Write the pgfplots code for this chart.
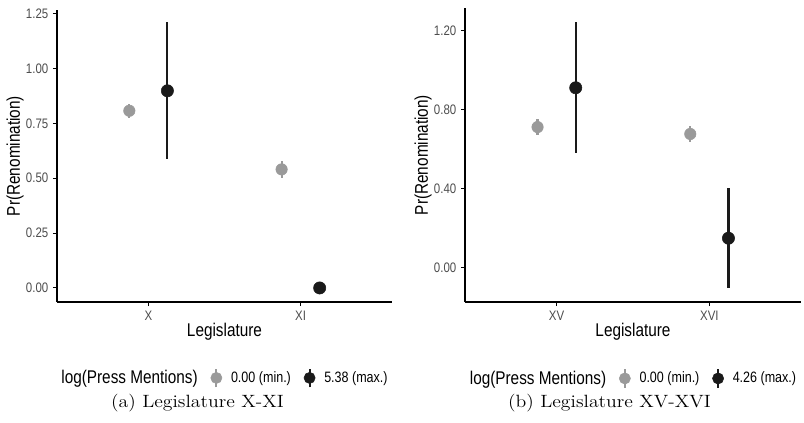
\documentclass[border=0pt]{standalone}
\usepackage{fontspec}
\usepackage{graphicx}
\usepackage{pgfplots}
\pgfplotsset{compat=1.18}
\newfontfamily\arial{Liberation Sans}
\newcommand{\vs}[1]{\scalebox{1}[1.2]{#1}}
\definecolor{ptgray}{HTML}{9A9A9A}
\definecolor{ptblack}{HTML}{1A1A1A}
\definecolor{tickgray}{HTML}{4D4D4D}
\pgfplotsset{
  myaxis/.style={
    scale only axis,
    axis x line*=bottom, axis y line*=left,
    axis line style={-, line width=0.9pt, black},
    xmin=0.4, xmax=2.6,
    xtick={1,2},
    tick align=outside,
    major tick length=3pt,
    tick style={line width=0.8pt, black},
    tick label style={font=\arial\fontsize{8.6}{10}\selectfont, text=tickgray},
    yticklabel={\vs{\pgfmathprintnumber[assume math mode=true, fixed, fixed zerofill, precision=2]{\tick}}},
    label style={font=\arial\fontsize{11.5}{13}\selectfont},
    xlabel={\vs{Legislature}},
    ylabel={\vs{Pr(Renomination)}},
    xlabel style={at={(axis description cs:0.5,-0.102)}, anchor=center},
    ylabel style={at={(axis description cs:-0.125,0.5)}, anchor=center},
    legend style={draw=none, fill=none, anchor=center, at={(axis description cs:0.5,-0.26)},
      font=\arial\fontsize{9.4}{11}\selectfont, legend columns=3,
      /tikz/every even column/.append style={column sep=7pt}},
  },
  grayplot/.style={only marks, mark=*, mark size=4.3pt, color=ptgray,
    mark options={fill=ptgray, draw=ptgray},
    legend image code/.code={
      \path[draw=none, fill=none] (-5pt,0pt) -- (9pt,0pt);
      \draw[line width=1.5pt, ptgray] (0pt,-7pt) -- (0pt,7pt);
      \fill[ptgray] (0pt,0pt) circle (4.2pt);},
    error bars/.cd, y dir=both, y explicit, error mark=none,
    error bar style={line width=1.6pt, ptgray}},
  blackplot/.style={only marks, mark=*, mark size=4.6pt, color=ptblack,
    mark options={fill=ptblack, draw=ptblack},
    legend image code/.code={
      \path[draw=none, fill=none] (-5pt,0pt) -- (9pt,0pt);
      \draw[line width=1.5pt, ptblack] (0pt,-7pt) -- (0pt,7pt);
      \fill[ptblack] (0pt,0pt) circle (4.2pt);},
    error bars/.cd, y dir=both, y explicit, error mark=none,
    error bar style={line width=1.6pt, ptblack}},
}
\begin{document}
\begin{tikzpicture}
\useasboundingbox (0pt,0pt) rectangle (603pt,316.5pt);
% Panel (a)
\begin{axis}[myaxis, at={(42.75pt,90pt)}, anchor=south west,
  width=251.25pt, height=219pt,
  ymin=-0.064, ymax=1.266,
  ytick={0,0.25,0.5,0.75,1,1.25},
  xticklabels={\vs{X},\vs{XI}}]
\addlegendimage{empty legend}
\addlegendentry{\fontsize{11.5}{13}\selectfont\vs{log(Press Mentions)}}
\addplot[grayplot] table[x=x, y=y, y error plus=ep, y error minus=em] {
x y ep em
0.875 0.807 0.032 0.032
1.875 0.540 0.040 0.040
};
\addlegendentry{\vs{0.00 (min.)}}
\addplot[blackplot] table[x=x, y=y, y error plus=ep, y error minus=em] {
x y ep em
1.125 0.898 0.315 0.312
2.125 0.000 0.004 0.004
};
\addlegendentry{\vs{5.38 (max.)}}
\end{axis}
% Panel (b)
\begin{axis}[myaxis, at={(348.75pt,90pt)}, anchor=south west,
  width=252pt, height=220.5pt,
  ymin=-0.174, ymax=1.315,
  ytick={0,0.4,0.8,1.2},
  xticklabels={\vs{XV},\vs{XVI}}]
\addlegendimage{empty legend}
\addlegendentry{\fontsize{11.5}{13}\selectfont\vs{log(Press Mentions)}}
\addplot[grayplot] table[x=x, y=y, y error plus=ep, y error minus=em] {
x y ep em
0.875 0.712 0.039 0.039
1.875 0.677 0.041 0.041
};
\addlegendentry{\vs{0.00 (min.)}}
\addplot[blackplot] table[x=x, y=y, y error plus=ep, y error minus=em] {
x y ep em
1.125 0.911 0.335 0.329
2.125 0.149 0.253 0.253
};
\addlegendentry{\vs{4.26 (max.)}}
\end{axis}
\node[font=\fontsize{14.8}{17}\selectfont] at (148.1pt,14.25pt) {\scalebox{1}[0.9]{(a) Legislature X-XI}};
\node[font=\fontsize{14.8}{17}\selectfont] at (457.1pt,14.25pt) {\scalebox{1}[0.9]{(b) Legislature XV-XVI}};
\end{tikzpicture}
\end{document}
